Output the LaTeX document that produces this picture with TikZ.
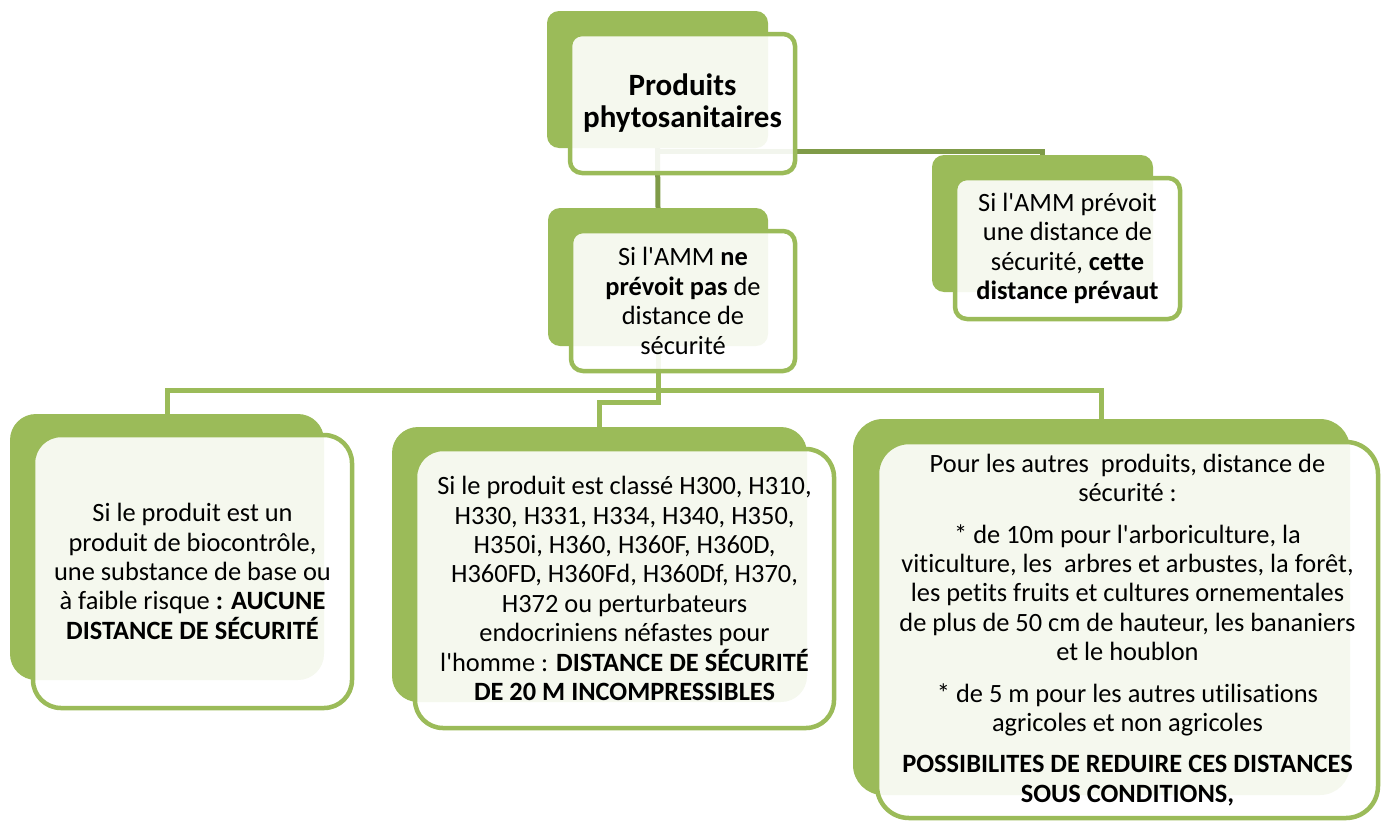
\documentclass[tikz,border=0pt]{standalone}
\usepackage{fontspec}
\setmainfont{Carlito}[Ligatures={NoCommon}]
\definecolor{leaf}{HTML}{9BBB59}
\definecolor{leafdark}{HTML}{7F9B48}
\newcommand{\apos}{\XeTeXglyph\XeTeXcharglyph"27\relax}
\tikzset{
  backbox/.style={fill=leaf, rounded corners=12pt, inner sep=0pt},
  frontbox/.style={draw=leaf, line width=4.5pt, fill=white, fill opacity=0.9, text opacity=1,
    rounded corners=12pt, align=center, inner sep=0pt, font=\fontsize{26.4pt}{29.4pt}\selectfont},
  link/.style={draw=leaf, line width=5pt},
  darklink/.style={draw=leafdark, line width=5pt}
}
\begin{document}
\begin{tikzpicture}[x=1pt,y=-1pt]
\useasboundingbox (0,0) rectangle (1384,822);
% back shapes
\node[backbox, minimum width=221pt, minimum height=137pt] (topB) at (657.5,79.5) {};
\node[backbox, minimum width=220pt, minimum height=138pt] (midB) at (658,277) {};
\node[backbox, minimum width=221pt, minimum height=137pt] (sideB) at (1042.5,223.5) {};
\node[backbox, rounded corners=26pt, minimum width=314pt, minimum height=266pt] (leftB) at (167,547) {};
\node[backbox, rounded corners=26pt, minimum width=415pt, minimum height=275pt] (centB) at (599.5,564.5) {};
\node[backbox, rounded corners=30pt, minimum width=497pt, minimum height=376pt] (rightB) at (1101.5,607) {};
% connectors
\draw[darklink] (topB.south) ++(0,3) -| (sideB.north);
\draw[darklink] (topB.south) -- (midB.north);
\draw[link] (midB.south) -- ++(0,44) coordinate (hub);
\draw[link] (leftB.north) |- (hub) -| (rightB.north);
\draw[link] (hub) -- ++(0,12) -| (centB.north);
% front boxes
\node[frontbox, font=\fontsize{31pt}{32pt}\selectfont\bfseries, minimum width=225pt, minimum height=139pt] (topF) at (682.5,103.5)
  {Produits\\ phytosanitaires};
\node[frontbox, minimum width=224pt, minimum height=140pt] (midF) at (683,301)
  {Si l\apos AMM \textbf{ne}\\ \textbf{prévoit pas} de\\ distance de\\ sécurité};
\node[frontbox, minimum width=225pt, minimum height=141pt] (sideF) at (1067.5,248.5)
  {Si l\apos AMM prévoit\\ une distance de\\ sécurité, \textbf{cette}\\ \textbf{distance prévaut}};
\node[frontbox, rounded corners=28pt, minimum width=319pt, minimum height=273pt] (leftF) at (192.5,571.5)
  {Si le produit est un\\ produit de biocontrôle,\\ une substance de base ou\\ à faible risque \textbf{: AUCUNE}\\ \textbf{DISTANCE DE SÉCURITÉ}};
\node[frontbox, rounded corners=28pt, minimum width=419pt, minimum height=279pt] (centF) at (624.5,588.5)
  {Si le produit est classé H300, H310,\\ H330, H331, H334, H340, H350,\\ H350i, H360, H360F, H360D,\\
   H360FD, H360Fd, H360Df, H370,\\ H372 ou perturbateurs\\ endocriniens néfastes pour\\
   l\apos homme : \textbf{DISTANCE DE SÉCURITÉ}\\ \textbf{DE 20 M INCOMPRESSIBLES}};
\node[frontbox, rounded corners=32pt, minimum width=501pt, minimum height=376pt] (rightF) at (1127.5,630)
  {Pour les autres~ produits, distance de\\ sécurité :\\[12pt]
   * de 10m pour l\apos arboriculture, la\\ viticulture, les~ arbres et arbustes, la forêt,\\
   les petits fruits et cultures ornementales\\ de plus de 50 cm de hauteur, les bananiers\\ et le houblon\\[12pt]
   * de 5 m pour les autres utilisations\\ agricoles et non agricoles\\[12pt]
   \textbf{POSSIBILITES DE REDUIRE CES DISTANCES}\\ \textbf{SOUS CONDITIONS,}};
\end{tikzpicture}
\end{document}
